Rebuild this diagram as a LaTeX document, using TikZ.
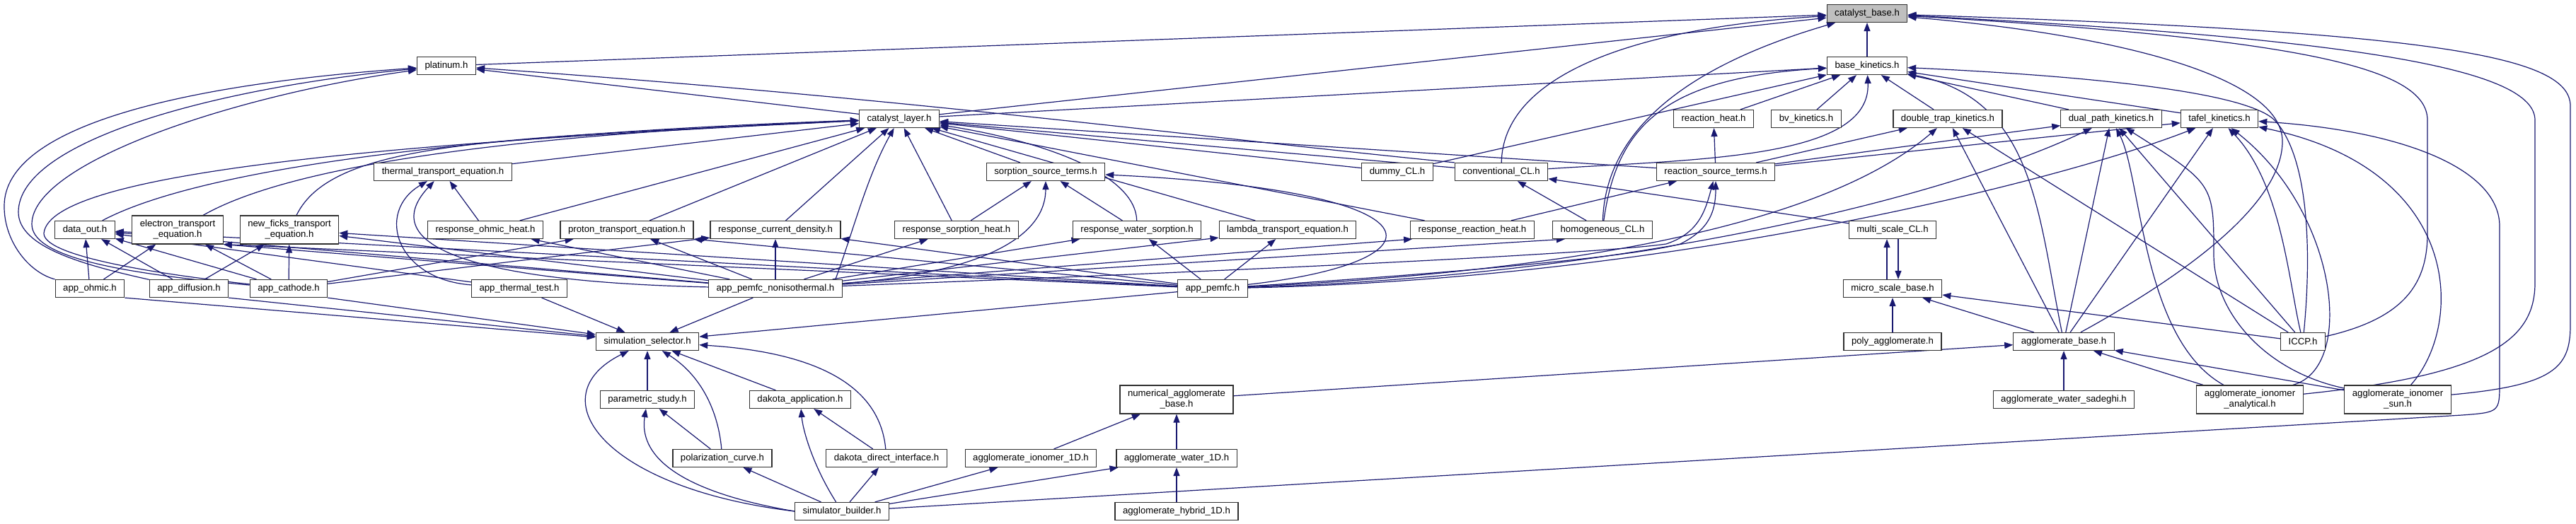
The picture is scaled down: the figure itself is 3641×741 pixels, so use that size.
\documentclass[tikz,border=0pt]{standalone}
\usepackage{fontspec}
\newfontfamily\hfont{Liberation Sans}
\usetikzlibrary{arrows.meta,backgrounds}
\definecolor{edgeblue}{RGB}{25,25,112}
\definecolor{rootgrey}{RGB}{191,191,191}
\definecolor{boxdraw}{RGB}{48,48,48}
\tikzset{
  hfile/.style ={rectangle, draw=boxdraw, fill=white, line width=1.2pt,
                 minimum height=25pt, inner xsep=11pt, inner ysep=1pt,
                 font=\hfont\fontsize{13.2}{15}\selectfont},
  hfile2/.style={hfile, align=center, minimum height=40pt},
  hroot/.style ={hfile, fill=rootgrey},
  inc/.style   ={-{Triangle[length=12pt, width=9pt]}, line width=1.2pt, edgeblue},
}
\begin{document}
\begin{tikzpicture}[x=1pt, y=-1pt]
\useasboundingbox (0,0) rectangle (3641,741);
% headers
\node[hroot] (cbase) at (2639,19) {catalyst\_base.h};
\node[hfile] (bkin) at (2639,93) {base\_kinetics.h};
\node[hfile] (platinum) at (631,93) {platinum.h};
\node[hfile] (clayer) at (1271,168) {catalyst\_layer.h};
\node[hfile] (rheat) at (2422,168) {reaction\_heat.h};
\node[hfile] (bv) at (2553,168) {bv\_kinetics.h};
\node[hfile] (dtrap) at (2753,168) {double\_trap\_kinetics.h};
\node[hfile] (dpath) at (2984,168) {dual\_path\_kinetics.h};
\node[hfile] (tafel) at (3137,168) {tafel\_kinetics.h};
\node[hfile] (thermal) at (626,243) {thermal\_transport\_equation.h};
\node[hfile] (sorp) at (1478,243) {sorption\_source\_terms.h};
\node[hfile] (dummy) at (1975,243) {dummy\_CL.h};
\node[hfile] (convCL) at (2122,243) {conventional\_CL.h};
\node[hfile] (rsrc) at (2425,243) {reaction\_source\_terms.h};
\node[hfile] (dataout) at (120,325) {data\_out.h};
\node[hfile2] (electron) at (251,325) {electron\_transport\\\_equation.h};
\node[hfile2] (newficks) at (409,325) {new\_ficks\_transport\\\_equation.h};
\node[hfile] (rohm) at (686,325) {response\_ohmic\_heat.h};
\node[hfile] (proton) at (886,325) {proton\_transport\_equation.h};
\node[hfile] (rcurr) at (1096,325) {response\_current\_density.h};
\node[hfile] (rsorph) at (1352,325) {response\_sorption\_heat.h};
\node[hfile] (rwater) at (1607,325) {response\_water\_sorption.h};
\node[hfile] (lambda) at (1820,325) {lambda\_transport\_equation.h};
\node[hfile] (rrheat) at (2081,325) {response\_reaction\_heat.h};
\node[hfile] (homCL) at (2265,325) {homogeneous\_CL.h};
\node[hfile] (multiCL) at (2675,325) {multi\_scale\_CL.h};
\node[hfile] (appohm) at (127,408) {app\_ohmic.h};
\node[hfile] (appdiff) at (267,408) {app\_diffusion.h};
\node[hfile] (appcath) at (408,408) {app\_cathode.h};
\node[hfile] (appthermal) at (734,408) {app\_thermal\_test.h};
\node[hfile] (appnon) at (1096,408) {app\_pemfc\_nonisothermal.h};
\node[hfile] (apppemfc) at (1714,408) {app\_pemfc.h};
\node[hfile] (microbase) at (2675,408) {micro\_scale\_base.h};
\node[hfile] (simsel) at (915,483) {simulation\_selector.h};
\node[hfile] (poly) at (2675,483) {poly\_agglomerate.h};
\node[hfile] (aggbase) at (2917,483) {agglomerate\_base.h};
\node[hfile] (iccp) at (3255,483) {ICCP.h};
\node[hfile] (param) at (915,565) {parametric\_study.h};
\node[hfile] (dakapp) at (1131,565) {dakota\_application.h};
\node[hfile2] (numagg) at (1663,565) {numerical\_agglomerate\\\_base.h};
\node[hfile] (sadeghi) at (2917,565) {agglomerate\_water\_sadeghi.h};
\node[hfile2] (aggana) at (3180,565) {agglomerate\_ionomer\\\_analytical.h};
\node[hfile2] (aggsun) at (3389,565) {agglomerate\_ionomer\\\_sun.h};
\node[hfile] (polcurve) at (1021,648) {polarization\_curve.h};
\node[hfile] (dakdirect) at (1253,648) {dakota\_direct\_interface.h};
\node[hfile] (aggion) at (1457,648) {agglomerate\_ionomer\_1D.h};
\node[hfile] (aggwat) at (1663,648) {agglomerate\_water\_1D.h};
\node[hfile] (simbuild) at (1190,723) {simulator\_builder.h};
\node[hfile] (agghyb) at (1663,723) {agglomerate\_hybrid\_1D.h};

\begin{scope}[on background layer]
% into catalyst_base.h
\draw[inc] (platinum) -- (cbase); \draw[inc] (bkin) -- (cbase); \draw[inc] (clayer) -- (cbase);
\draw[inc] (convCL) .. controls (2124,110) and (2300,40) .. (cbase);
\draw[inc] (homCL) .. controls (2270,160) and (2430,80) .. (cbase);
\draw[inc] (aggbase) .. controls (3050,410) and (3226,300) .. (3226,200) .. controls (3226,110) and (3000,50) .. (cbase);
\draw[inc] (iccp) .. controls (3400,450) and (3431,400) .. (3431,330) -- (3431,170) .. controls (3431,95) and (3250,55) .. (cbase);
\draw[inc] (aggana) .. controls (3520,530) and (3583,480) .. (3583,400) -- (3583,170) .. controls (3583,100) and (3350,55) .. (cbase);
\draw[inc] (aggsun) .. controls (3610,545) and (3633,520) .. (3633,460) -- (3633,150) .. controls (3633,80) and (3450,45) .. (cbase);
% platinum.h
\draw[inc] (clayer) -- (platinum);
\draw[inc] (convCL.north west) .. controls (1700,195) and (1300,140) .. (platinum);
\draw[inc] (appohm) .. controls (40,385) and (5,340) .. (6,290) .. controls (8,180) and (250,120) .. (platinum);
\draw[inc] (appdiff) .. controls (120,375) and (26,350) .. (26,300) .. controls (26,200) and (300,125) .. (platinum);
\draw[inc] (appcath) .. controls (150,385) and (45,360) .. (45,317) .. controls (45,230) and (330,135) .. (platinum);
% base_kinetics.h
\draw[inc] (clayer) -- (bkin); \draw[inc] (dummy) -- (bkin);
\draw[inc] (homCL) .. controls (2285,180) and (2350,110) .. (bkin);
\draw[inc] (convCL) .. controls (2400,225) and (2645,225) .. (bkin);
\draw[inc] (rheat) -- (bkin); \draw[inc] (bv) -- (bkin); \draw[inc] (dtrap) -- (bkin);
\draw[inc] (dpath) -- (bkin); \draw[inc] (tafel) -- (bkin);
\draw[inc] (iccp) .. controls (3268,350) and (3262,220) .. (3215,170) .. controls (3170,125) and (2900,105) .. (bkin);
\draw[inc] (aggbase) .. controls (2880,300) and (2875,140) .. (bkin);
% kinetics
\draw[inc] (rsrc) -- (rheat); \draw[inc] (rsrc) -- (dtrap); \draw[inc] (rsrc) -- (dpath); \draw[inc] (rsrc) -- (tafel);
\draw[inc] (aggbase) -- (dtrap); \draw[inc] (aggbase) -- (dpath); \draw[inc] (aggbase) -- (tafel);
\draw[inc] (iccp) -- (dtrap); \draw[inc] (iccp) -- (dpath);
\draw[inc] (iccp) .. controls (3235,400) and (3225,260) .. (tafel);
\draw[inc] (aggana) .. controls (3027,480) and (3027,250) .. (dpath);
\draw[inc] (aggsun) .. controls (3200,525) and (3129,440) .. (3129,360) .. controls (3129,260) .. (dpath);
\draw[inc] ([xshift=-15pt]aggana.north east) .. controls (3330,520) and (3305,300) .. (tafel);
\draw[inc] (aggsun) .. controls (3483,460) and (3483,240) .. (tafel);
\draw[inc] (simbuild) -- (3480,587) .. controls (3533,583) .. (3533,540) -- (3533,320) .. controls (3533,240) and (3400,185) .. (tafel);
\draw[inc] (apppemfc) .. controls (2300,380) and (2600,300) .. (dtrap);
\draw[inc] (apppemfc) .. controls (2300,390) and (2750,280) .. (dpath);
\draw[inc] (apppemfc) .. controls (2350,395) and (2900,260) .. (tafel);
% catalyst_layer.h
\draw[inc] (dataout) .. controls (280,240) and (650,190) .. (clayer);
\draw[inc] (electron) .. controls (400,240) and (680,192) .. (clayer);
\draw[inc] (newficks) .. controls (470,200) and (700,195) .. (clayer);
\draw[inc] (thermal) -- (clayer); \draw[inc] (rohm) -- (clayer); \draw[inc] (proton) -- (clayer);
\draw[inc] (rcurr) -- (clayer); \draw[inc] (sorp) -- (clayer); \draw[inc] (rsorph) -- (clayer);
\draw[inc] (rwater) .. controls (1605,240) and (1450,195) .. (clayer);
\draw[inc] (lambda) -- (clayer); \draw[inc] (rrheat) -- (clayer); \draw[inc] (dummy) -- (clayer);
\draw[inc] (convCL) -- (clayer); \draw[inc] (rsrc) -- (clayer);
\draw[inc] ([xshift=-10pt]appnon.north east) .. controls (1205,330) and (1225,250) .. (clayer);
\draw[inc] (appcath) .. controls (200,385) and (62,360) .. (62,330) .. controls (70,240) and (600,200) .. (clayer);
% second row
\draw[inc] (rsorph) -- (sorp); \draw[inc] (rwater) -- (sorp);
\draw[inc] (appnon) .. controls (1400,385) and (1478,330) .. (sorp);
\draw[inc] (apppemfc) .. controls (2050,370) and (2050,270) .. (sorp);
\draw[inc] (rohm) -- (thermal);
\draw[inc] (appthermal) .. controls (560,395) and (530,300) .. (thermal);
\draw[inc] (appnon) .. controls (640,398) and (535,340) .. (thermal);
\draw[inc] (rrheat) -- (rsrc);
\draw[inc] (appnon) .. controls (1700,385) and (2250,360) .. (2355,345) .. controls (2400,330) and (2410,300) .. (rsrc);
\draw[inc] (apppemfc) .. controls (2000,390) and (2300,365) .. (2375,345) .. controls (2415,325) and (2425,300) .. (rsrc);
\draw[inc] (homCL) -- (convCL); \draw[inc] (multiCL) -- (convCL);
% third row
\draw[inc] (appohm) -- (dataout); \draw[inc] (appdiff) -- (dataout); \draw[inc] (appcath) -- (dataout);
\draw[inc] (appthermal) -- (dataout); \draw[inc] (appnon) -- (dataout); \draw[inc] (apppemfc) -- (dataout);
\draw[inc] (appohm) -- (electron); \draw[inc] (appcath) -- (electron);
\draw[inc] (appnon) -- (electron.south east); \draw[inc] (apppemfc) -- (electron.south east);
\draw[inc] (appdiff) -- (newficks); \draw[inc] (appcath) -- (newficks);
\draw[inc] (appnon) -- (newficks); \draw[inc] (apppemfc) -- (newficks);
\draw[inc] (appnon) -- (rohm);
\draw[inc] (appcath) -- (proton); \draw[inc] (appnon) -- (proton); \draw[inc] (apppemfc) -- (proton.south east);
\draw[inc] (appcath) -- (rcurr); \draw[inc] (appnon) -- (rcurr); \draw[inc] (apppemfc) -- (rcurr);
\draw[inc] (appnon) -- (rsorph);
\draw[inc] (appnon) -- (rwater); \draw[inc] (apppemfc) -- (rwater);
\draw[inc] (appnon) -- (lambda); \draw[inc] (apppemfc) -- (lambda);
\draw[inc] (appnon) -- ([xshift=3pt]rrheat.south west);
\draw[inc] (appnon) -- ([xshift=18pt]homCL.south west);
\draw[inc] ([xshift=-8pt]microbase.north) -- ([xshift=-8pt]multiCL.south);
\draw[inc] ([xshift=8pt]multiCL.south) -- ([xshift=8pt]microbase.north);
% applications
\draw[inc] (appohm.south east) -- (simsel); \draw[inc] (appdiff.south east) -- (simsel);
\draw[inc] (appcath.south east) -- (simsel); \draw[inc] (appthermal) -- (simsel);
\draw[inc] (appnon) -- (simsel); \draw[inc] (apppemfc) -- (simsel);
\draw[inc] (param) -- (simsel); \draw[inc] (dakapp) -- (simsel);
\draw[inc] (polcurve) .. controls (1015,580) and (990,530) .. (simsel);
\draw[inc] (dakdirect) .. controls (1245,560) and (1180,500) .. (simsel);
\draw[inc] (simbuild.west) .. controls (850,690) and (760,560) .. (simsel);
\draw[inc] (polcurve) -- (param);
\draw[inc] (simbuild.west) .. controls (930,690) and (905,630) .. (param);
\draw[inc] (simbuild) -- (polcurve); \draw[inc] (dakdirect) -- (dakapp);
\draw[inc] (simbuild) .. controls (1150,660) and (1135,610) .. (dakapp);
\draw[inc] (simbuild) -- (dakdirect);
% agglomerates
\draw[inc] (simbuild) -- (aggion); \draw[inc] (simbuild) -- (aggwat); \draw[inc] (agghyb) -- (aggwat);
\draw[inc] (aggion) -- (numagg); \draw[inc] (aggwat) -- (numagg);
\draw[inc] (numagg) -- (aggbase); \draw[inc] (sadeghi) -- (aggbase);
\draw[inc] (aggana) -- (aggbase); \draw[inc] (aggsun) -- (aggbase);
\draw[inc] (poly) -- (microbase); \draw[inc] (aggbase) -- (microbase); \draw[inc] (iccp) -- (microbase);
\end{scope}
\end{tikzpicture}
\end{document}
